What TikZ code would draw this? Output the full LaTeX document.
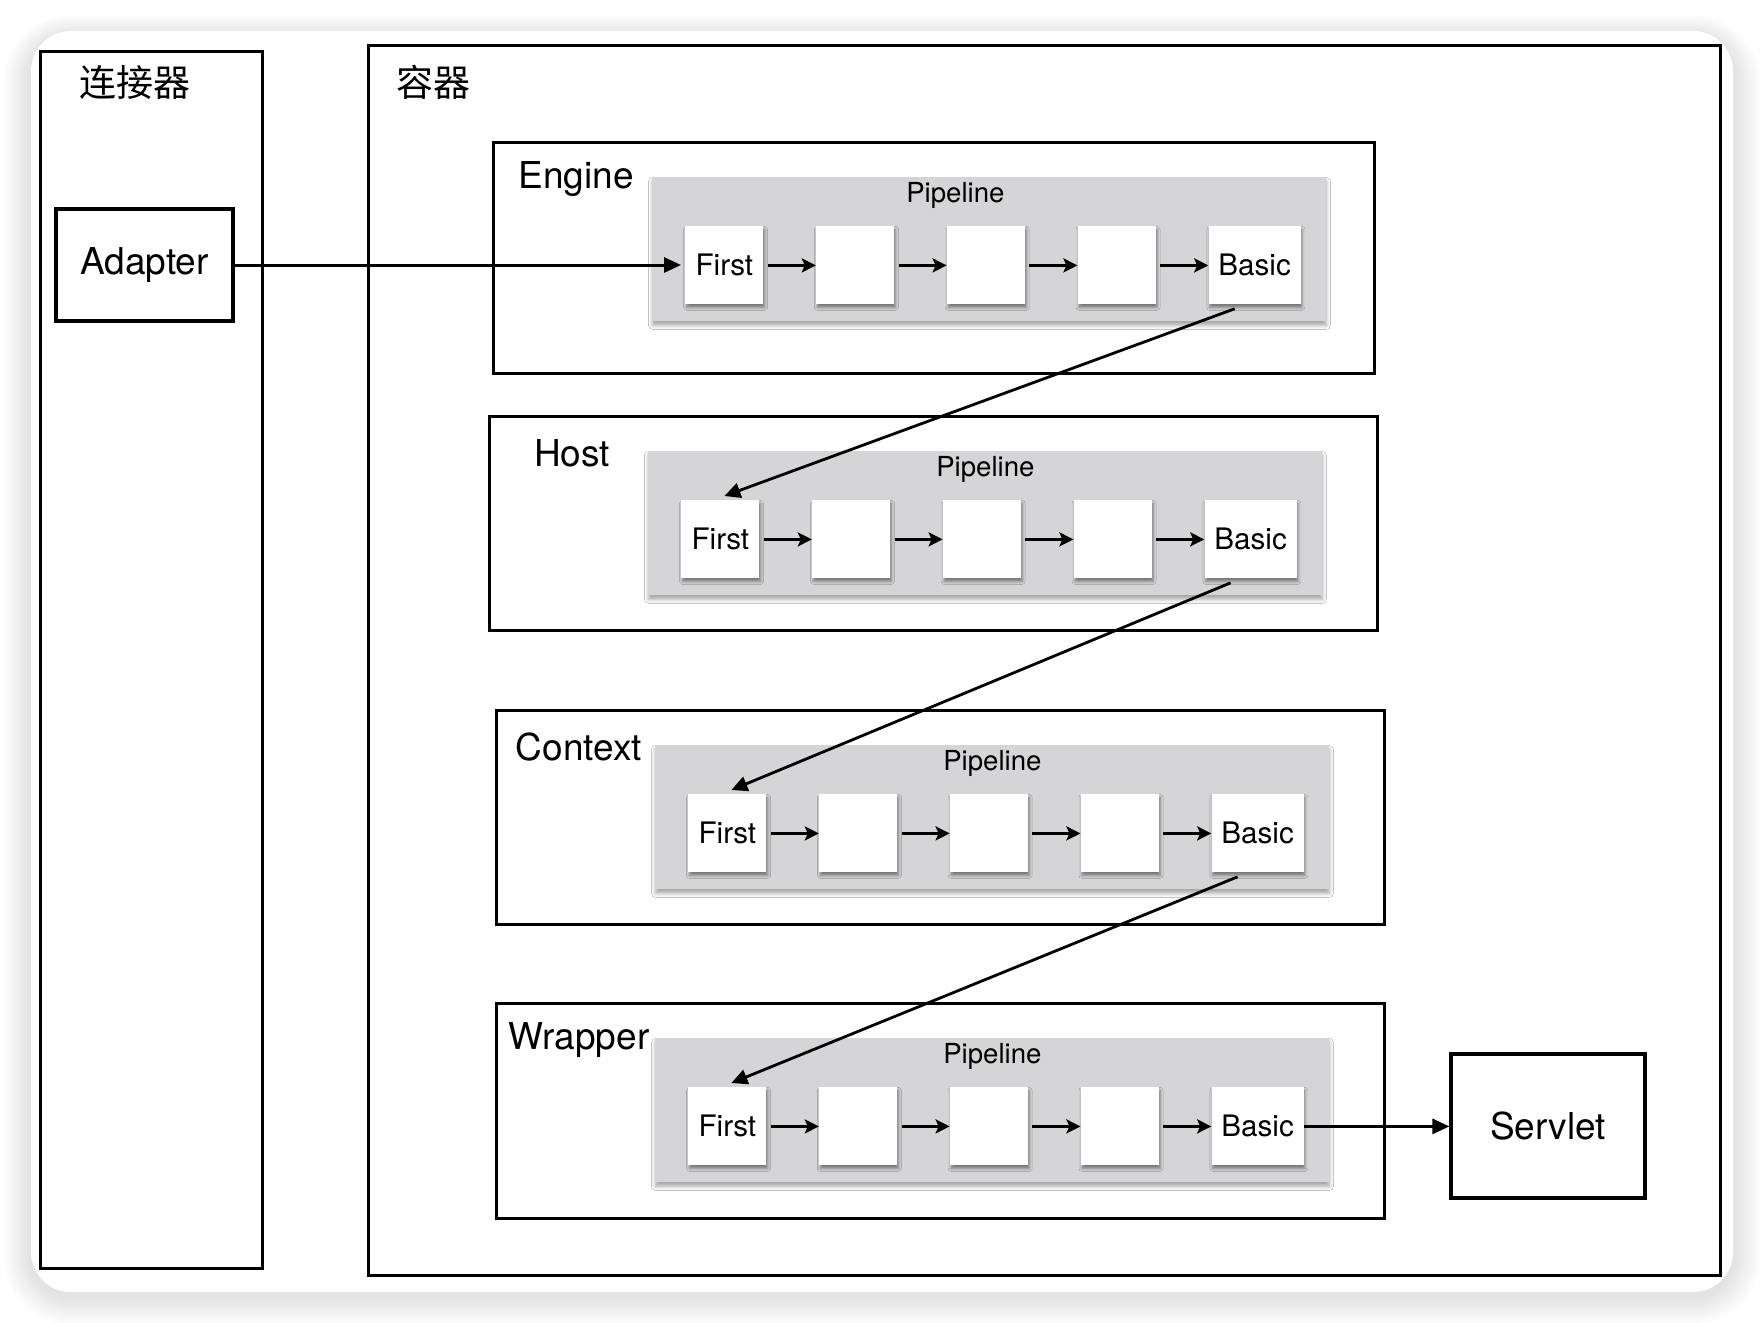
\documentclass[tikz,border=0pt]{standalone}
\usepackage{fontspec}
\setmainfont{TeX Gyre Heros}
\newfontfamily\cjk{Noto Sans CJK SC}
\usetikzlibrary{positioning, arrows.meta, shadows.blur, calc}
\definecolor{pipegray}{RGB}{213,213,215}

\begin{document}
\begin{tikzpicture}[x=0.5pt, y=-0.5pt,
    % --- STYLES ---
    frame/.style={draw, line width=1.6pt, inner sep=0pt},
    levelbox/.style={frame},
    boxtitle/.style={inner sep=0pt, font=\fontsize{18.5}{22}\selectfont},
    pipebox/.style={fill=pipegray, inner sep=0pt, minimum width=337pt, minimum height=72pt,
        blur shadow={shadow xshift=0pt, shadow yshift=-2pt, shadow blur radius=2pt, shadow opacity=35}},
    pipetitle/.style={inner sep=0pt, font=\fontsize{13.8}{16}\selectfont},
    valve/.style={fill=white, inner sep=0pt, minimum width=39pt, minimum height=39pt,
        font=\fontsize{14.8}{17}\selectfont,
        blur shadow={shadow xshift=0.6pt, shadow yshift=-1.5pt, shadow blur radius=1.5pt, shadow opacity=45}},
    flow/.style={-{Stealth[length=7pt, width=7pt, inset=1.5pt]}, line width=1.4pt, shorten <=2pt},
    jump/.style={-{Triangle[length=8pt, width=7.5pt]}, line width=1.4pt},
    link/.style={-{Triangle[length=8.5pt, width=7.5pt]}, line width=1.5pt}
]
    \useasboundingbox (0,0) rectangle (1764,1322);
    \fill[white] (0,0) rectangle (1764,1322);

    % ==========================================
    % CARD
    % ==========================================
    \foreach \i in {1,...,14}
        \fill[black, opacity=0.009, rounded corners=20pt+\i*1pt]
            (31-\i*2,31-\i*1.5+5) rectangle (1733+\i*2,1292+\i*2+5);
    \fill[white, rounded corners=20pt] (31,31) rectangle (1733,1292);

    % ==========================================
    % CONNECTOR AND CONTAINER
    % ==========================================
    \node[frame, anchor=north west, minimum width=111pt, minimum height=608.5pt] (connector) at (39,50) {};
    \node[boxtitle, anchor=west] (connector-title) at (79,82) {\cjk 连接器};
    \node[frame, minimum width=88.5pt, minimum height=56pt] (adapter) at (144.5,265) {\fontsize{18.5}{22}\selectfont Adapter};

    \node[frame, anchor=north west, minimum width=676pt, minimum height=615pt] (container) at (367,44) {};
    \node[boxtitle, anchor=west] (container-title) at (396,82) {\cjk 容器};

    % ==========================================
    % ENGINE / HOST / CONTEXT / WRAPPER
    % ==========================================
    \foreach \id/\lbl/\ox/\oy/\ow/\oh/\px in {engine/Engine/492/141/881/231/-34, host/Host/488/415/888/214/0,
                                             context/Context/495/709/888/214/0, wrapper/Wrapper/495/1002/888/215/0} {
        \node[levelbox, minimum width=\ow*0.5pt, minimum height=\oh*0.5pt, anchor=north west] (\id) at (\ox,\oy) {};
        \node[boxtitle] (\id-title) at ($(\id.north west)+(84,38)$) {\lbl};
        \node[pipebox, below right=18pt and 80pt of \id.north west] (\id-pipe) {};
        \node[pipetitle] (\id-pipetitle) at ($(\id-pipe.north)+(\px,18)$) {Pipeline};
        % valves of the pipeline
        \node[valve, right=16.5pt of \id-pipe.west, yshift=-8pt] (\id-first) {First};
        \node[valve, right=26pt of \id-first] (\id-v1) {};
        \node[valve, right=26pt of \id-v1] (\id-v2) {};
        \node[valve, right=26pt of \id-v2] (\id-v3) {};
        \node[valve, minimum width=46pt, right=26pt of \id-v3] (\id-basic) {Basic};
        \foreach \a/\b in {first/v1, v1/v2, v2/v3, v3/basic}
            \draw[flow] (\id-\a) -- (\id-\b);
    }

    \node[frame, minimum width=97pt, minimum height=72pt] (servlet) at (1548,1126) {\fontsize{18.5}{22}\selectfont Servlet};

    % ==========================================
    % CONNECTIONS
    % ==========================================
    \draw[link, shorten >=2pt] (adapter.east) -- (adapter.east -| engine-first.west);
    \draw[jump] ([xshift=-10pt, yshift=-2pt]engine-basic.south) -- ([xshift=2pt, yshift=2pt]host-first.north);
    \draw[jump] ([xshift=-10pt, yshift=-2pt]host-basic.south) -- ([xshift=2pt, yshift=2pt]context-first.north);
    \draw[jump] ([xshift=-10pt, yshift=-2pt]context-basic.south) -- ([xshift=2pt, yshift=2pt]wrapper-first.north);
    \draw[link] (wrapper-basic.east) -- (wrapper-basic.east -| servlet.west);

\end{tikzpicture}
\end{document}
